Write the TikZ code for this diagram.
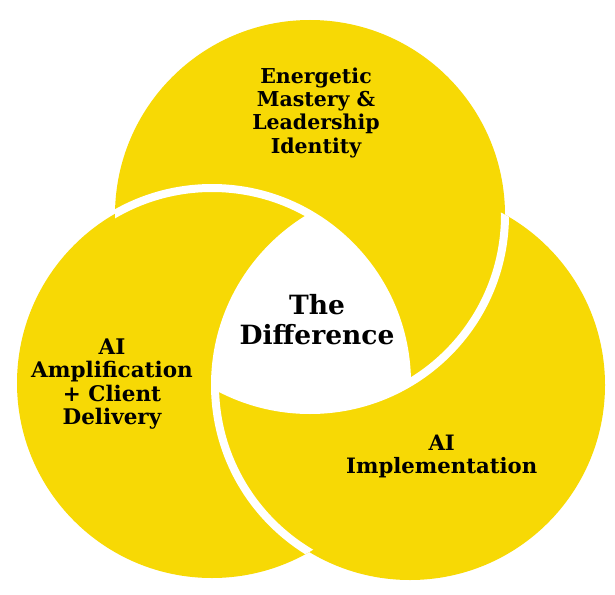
\documentclass[tikz,border=0pt]{standalone}
\usepackage{fontspec}
\setmainfont{DejaVu Serif}
\definecolor{venn}{HTML}{F7D905}
\tikzset{
  lbl/.style={align=center, text=black, inner sep=0pt},
  gap/.style={draw=white, line width=8pt}
}
\begin{document}
\begin{tikzpicture}[x=1pt,y=-1pt]
\useasboundingbox (0,0) rectangle (615,594);
\fill[white] (0,0) rectangle (615,594);
\coordinate (T) at (310,215);
\coordinate (L) at (212,383);
\coordinate (R) at (410,385);
\def\rr{195pt}
\fill[venn] (T) circle[radius=\rr];
\fill[venn] (L) circle[radius=\rr];
\fill[venn] (R) circle[radius=\rr];
\begin{scope}
  \clip (T) circle[radius=\rr];
  \draw[gap] (L) circle[radius=\rr];
\end{scope}
\begin{scope}
  \clip (R) circle[radius=\rr];
  \draw[gap] (T) circle[radius=\rr];
\end{scope}
\begin{scope}
  \clip (L) circle[radius=\rr];
  \draw[gap] (R) circle[radius=\rr];
\end{scope}
\begin{scope}
  \clip (T) circle[radius=\rr];
  \clip (L) circle[radius=\rr];
  \fill[white] (R) circle[radius=\rr];
\end{scope}
\node[lbl, font=\bfseries\fontsize{20.5}{23.2}\selectfont] (top) at (316,112.8) {Energetic\\Mastery \&\\Leadership\\Identity};
\node[lbl, font=\bfseries\fontsize{26.5}{30}\selectfont] (mid) at (317,319.5) {The\\Difference};
\node[lbl, font=\bfseries\fontsize{21.5}{23.5}\selectfont] (left) at (112,384) {AI\\Amplification\\+ Client\\Delivery};
\node[lbl, font=\bfseries\fontsize{21.2}{23}\selectfont] (right) at (441.7,456.2) {AI\\Implementation};
\end{tikzpicture}
\end{document}
